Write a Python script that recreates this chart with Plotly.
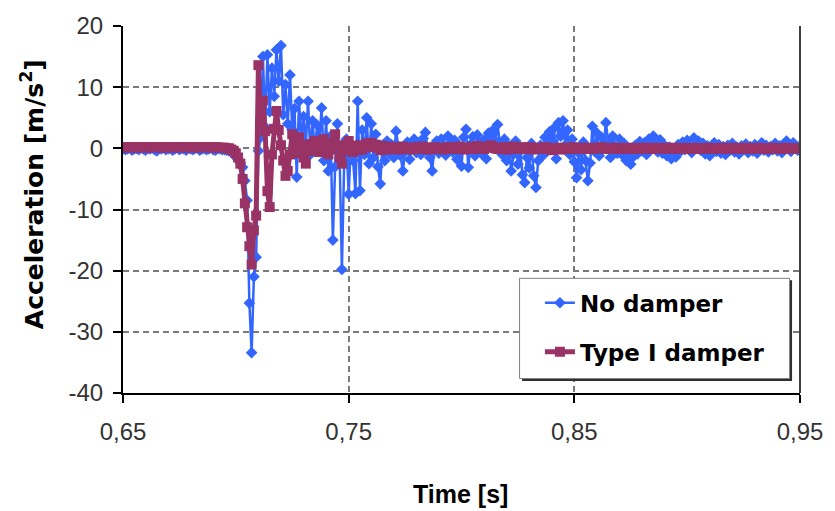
import plotly.graph_objects as go

# Canvas and plot-area geometry (pixels)
W, H = 835, 511
ML, MR, MT, MB = 123, 30, 25, 118

# Sampling instants: 1 ms steps from 0.650 s to 0.950 s
t_ms = list(range(650, 951))
time_s = [m / 1000 for m in t_ms]

# Acceleration without damper [m/s^2]
no_damper = [
    # 0.650 - 0.699
    0.0, -0.2, -0.1, 0.1, -0.3, -0.1, 0.0, -0.2, 0.1, -0.1,
    -0.3, 0.0, -0.1, 0.1, -0.2, -0.4, 0.0, -0.1, 0.1, -0.2,
    -0.1, 0.0, -0.3, -0.1, 0.1, -0.2, 0.0, -0.1, -0.3, 0.1,
    -0.1, -0.2, 0.0, 0.1, -0.3, -0.1, 0.0, -0.2, -0.1, 0.1,
    -0.2, -0.3, 0.0, -0.1, -0.2, -0.2, -0.3, -0.4, -0.6, -0.9,
    # 0.700 - 0.760
    -1.4, -1.8, -2.4, -3.1, -5.3, -8.5, -25.3, -33.4, -21.0, -17.8,
    -0.4, 1.8, 15.0, 3.5, 15.3, 6.0, 13.1, 8.5, 16.1, 11.0,
    16.8, 5.5, 10.4, 4.0, 12.0, 3.0, 6.5, -4.7, 7.7, 1.5,
    5.2, 0.5, 7.7, -1.0, 4.5, -0.5, 3.8, 1.0, 6.6, -2.0,
    4.5, -3.7, 2.0, -15.0, -3.0, 4.0, -1.5, -19.8, -2.5, 1.5,
    -7.5, 0.8, -2.0, -7.4, 7.7, -6.9, 3.0, -1.0, 5.0, -2.5,
    4.0,
    # 0.761 - 0.800
    -1.5, 2.3, -3.0, -5.8, 0.5, -2.0, 1.2, -0.8, 0.6, -1.5,
    2.8, 0.3, -1.2, -3.7, -0.5, 1.0, -1.8, 0.4, 1.5, -0.7,
    0.9, -1.0, 1.6, 2.6, -0.5, -1.5, -3.7, 0.2, 1.2, -0.8,
    1.5, 0.5, -1.1, 2.0, 0.8, -0.6, 1.3, -1.8, 0.4, -2.9,
    # 0.801 - 0.860
    1.8, 3.1, -3.1, 0.6, 1.9, -1.2, 2.2, 0.5, -0.9, 1.4,
    -1.7, 2.5, 0.8, 3.0, 1.2, 3.9, 0.6, -1.0, 1.5, -2.0,
    0.4, -3.7, -1.0, 1.2, -2.6, -0.5, -4.3, -5.6, -1.5, -3.2,
    0.8, -4.5, -6.4, -2.0, 0.5, -1.2, 1.8, -0.4, 2.7, 1.0,
    3.3, -1.7, 4.2, 2.0, 4.5, 0.5, 3.0, -1.0, 1.5, -2.2,
    -4.8, -0.8, -3.5, 1.0, -2.0, -5.3, -2.4, 3.6, -0.5, 2.5,
    # 0.861 - 0.950
    -1.2, 1.8, 0.6, 4.2, 1.0, -1.5, 2.0, 0.3, -0.8, 1.5,
    -1.0, 0.8, -2.0, -0.5, -2.6, -1.4, 0.5, -0.9, 1.1, -0.4,
    0.9, -1.0, 1.5, 0.3, 2.0, 1.1, -0.6, 1.4, -0.8, 0.5,
    -1.2, 0.2, -1.7, -0.3, -1.4, 0.6, -0.5, 1.0, -0.2, 1.3,
    0.4, -0.7, 1.7, 0.5, 1.2, -0.3, 0.8, -0.9, 0.4, -1.2,
    0.1, 0.9, -0.5, 0.6, -0.8, 0.3, -1.0, 0.5, -0.3, 0.8,
    -0.6, 0.2, -0.9, 0.4, -0.2, 0.7, -0.7, 0.3, -0.4, 0.6,
    -0.8, 0.2, 0.9, -0.3, 0.5, -0.6, 0.3, -0.2, 0.8, -0.4,
    0.4, -0.7, 0.6, 1.2, 0.2, -0.5, 0.9, 0.1, -0.3, 0.4,
]

# Acceleration with Type I damper [m/s^2]
type1_damper = [
    # 0.650 - 0.696
    0.2, 0.2, 0.1, 0.2, 0.2, 0.2, 0.1, 0.2, 0.2, 0.2,
    0.2, 0.1, 0.2, 0.2, 0.2, 0.2, 0.2, 0.1, 0.2, 0.2,
    0.2, 0.2, 0.1, 0.2, 0.2, 0.2, 0.2, 0.2, 0.1, 0.2,
    0.2, 0.2, 0.2, 0.1, 0.2, 0.2, 0.2, 0.2, 0.2, 0.1,
    0.2, 0.2, 0.1, 0.1, 0.1, 0.1, 0.0,
    # 0.697 - 0.757
    0.0, -0.2, -0.4, -0.8, -1.5, -2.5, -5.0, -9.0, -12.9, -16.0,
    -19.0, -13.4, -11.0, 13.6, 4.3, 7.8, 2.8, -7.0, -9.6, -1.0,
    3.2, 6.1, 3.0, 0.5, -2.0, -4.5, -3.7, -1.0, 2.3, 1.0,
    -0.8, 1.8, 0.5, -1.5, -2.5, -0.5, 0.7, -0.3, 1.2, 0.7,
    -0.6, 0.1, 1.5, 0.1, -1.0, -0.2, 0.8, 2.3, 0.5, -1.5,
    -2.5, -0.4, 0.6, 1.2, -0.2, -0.6, 0.4, -0.3, 0.5, -0.2,
    0.3,
    # 0.758 - 0.950
    0.8, 0.3, 0.9, 0.2, 0.6, 0.1, -0.3, 0.4, 0.0, -0.2,
    0.3, 0.1, -0.1, 0.2, -0.2, 0.0, 0.3, -0.1, 0.1, 0.0,
    -0.2, 0.1, 0.2, -0.1, 0.0, 0.3, 0.1, -0.2, 0.0, 0.1,
    0.2, -0.1, 0.0, 0.1, -0.2, 0.0, 0.2, 0.1, -0.1, 0.0,
    0.1, 0.3, 0.0, -0.2, 0.1, 0.0, 0.2, -0.1, 0.0, 0.4,
    0.2, 0.0, -0.1, 0.1, 0.3, 0.5, 0.2, 0.0, -0.1, 0.1,
    0.0, 0.2, -0.2, 0.0, 0.1, 0.3, 0.0, -0.1, 0.2, 0.1,
    -0.1, 0.0, 0.2, 0.1, -0.2, 0.0, 0.1, 0.0, -0.1, 0.2,
    0.1, 0.0, -0.3, -0.1, 0.0, 0.1, -0.2, 0.0, 0.1, -0.1,
    0.0, 0.2, 0.1, -0.1, 0.0, 0.1, 0.0, -0.1, 0.1, 0.0,
    -0.1, 0.0, 0.1, 0.0, 0.2, 0.0, -0.1, 0.0, 0.1, -0.1,
    0.0, 0.1, 0.0, -0.1, 0.0, 0.1, 0.0, 0.0, -0.1, 0.1,
    0.0, -0.1, 0.1, 0.0, 0.0, 0.1, -0.1, 0.0, 0.0, 0.1,
    0.0, 0.0, -0.1, 0.1, 0.0, 0.0, 0.1, -0.1, 0.0, 0.0,
    0.1, 0.0, 0.0, -0.1, 0.0, 0.1, 0.0, 0.0, -0.1, 0.0,
    0.0, 0.1, 0.0, 0.0, -0.1, 0.0, 0.0, 0.1, 0.0, -0.1,
    0.0, 0.0, 0.1, 0.0, 0.0, -0.1, 0.0, 0.0, 0.1, 0.0,
    0.0, -0.1, 0.0, 0.0, 0.1, 0.0, 0.0, -0.1, 0.0, 0.0,
    0.1, 0.0, 0.0, 0.0, -0.1, 0.0, 0.1, 0.0, 0.0, 0.0,
    0.0, 0.0, 0.0,
]

# Axis ticks
x_ticks = [0.65, 0.75, 0.85, 0.95]
x_tick_text = ["0,65", "0,75", "0,85", "0,95"]
y_ticks = [-40, -30, -20, -10, 0, 10, 20]
y_tick_text = ["-40", "-30", "-20", "-10", "0", "10", "20"]

BLUE = "#3366FF"
MAROON = "#993366"
TICK_FONT = "Liberation Sans"
LABEL_FONT = "DejaVu Sans"


def px_x(px):
    return (px - ML) / (W - ML - MR)


def px_y(py):
    return (H - MB - py) / (H - MT - MB)


fig = go.Figure()
fig.add_trace(go.Scatter(
    x=time_s, y=no_damper, name="No damper", mode="lines+markers",
    line=dict(color=BLUE, width=2.5),
    marker=dict(symbol="diamond", size=9, color=BLUE),
    legendgroup="a",
))
fig.add_trace(go.Scatter(
    x=time_s, y=type1_damper, name="Type I damper", mode="lines+markers",
    line=dict(color=MAROON, width=5),
    marker=dict(symbol="square", size=10, color=MAROON),
    legendgroup="b",
))

axis_common = dict(
    showgrid=True, gridcolor="#7a7a7a", gridwidth=1.5, griddash="6px,4px",
    showline=True, linecolor="black", linewidth=2,
    ticks="outside", ticklen=8, tickwidth=2, tickcolor="black",
    tickfont=dict(family=TICK_FONT, size=24, color="#333333"),
    zeroline=False,
)

fig.update_xaxes(range=[0.65, 0.95], tickvals=x_ticks, ticktext=x_tick_text,
                 ticklabelstandoff=8, **axis_common)
fig.update_yaxes(range=[-40, 20], tickvals=y_ticks, ticktext=y_tick_text,
                 ticklabelstandoff=5, **axis_common)

shapes = [
    # right edge of the plot area
    dict(type="line", xref="paper", yref="paper", x0=1, x1=1, y0=0, y1=1,
         line=dict(color="#404040", width=2), layer="above"),
    # legend frame with drop shadow
    dict(type="rect", xref="paper", yref="paper",
         x0=px_x(525), x1=px_x(797), y0=px_y(381), y1=px_y(280),
         fillcolor="#303030", line=dict(width=0), layer="above"),
    dict(type="rect", xref="paper", yref="paper",
         x0=px_x(522.5), x1=px_x(794.5), y0=px_y(378.5), y1=px_y(278),
         fillcolor="white", line=dict(color="#808080", width=1), layer="above"),
]

annotations = [
    dict(text="<b>Acceleration [m/s<sup>2</sup>]</b>", xref="paper", yref="paper",
         x=px_x(32), y=px_y(194), xanchor="center", yanchor="middle",
         textangle=-90, showarrow=False,
         font=dict(family=LABEL_FONT, size=25, color="black")),
    dict(text="<b>Time [s]</b>", xref="paper", yref="paper",
         x=px_x(463), y=px_y(494), xanchor="center", yanchor="middle",
         showarrow=False, font=dict(family=TICK_FONT, size=25, color="black")),
]

fig.update_layout(
    width=W, height=H,
    margin=dict(l=ML, r=MR, t=MT, b=MB),
    paper_bgcolor="white", plot_bgcolor="white",
    shapes=shapes, annotations=annotations,
    legend=dict(
        x=px_x(543), y=px_y(281), xanchor="left", yanchor="top",
        bgcolor="rgba(0,0,0,0)", borderwidth=0,
        font=dict(family=LABEL_FONT, size=23, color="black", weight="bold"),
        tracegroupgap=16, itemwidth=30,
    ),
)

fig.write_html("out.html")
